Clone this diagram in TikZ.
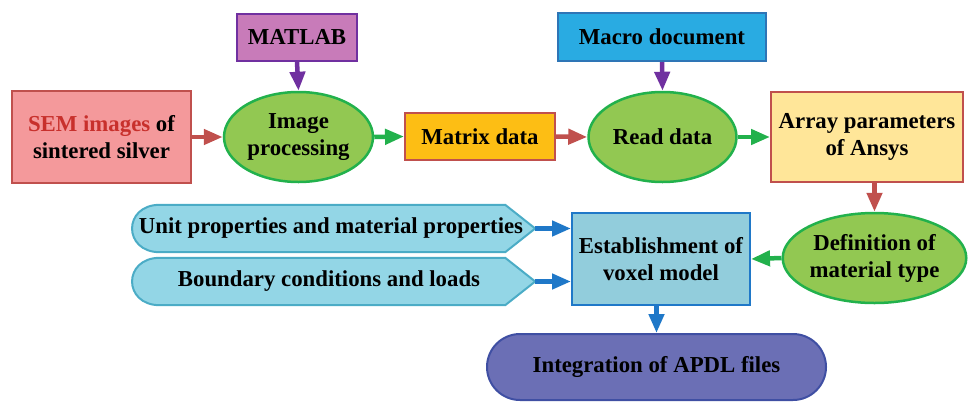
\documentclass[tikz,border=0pt]{standalone}
\usepackage{fontspec}
\setmainfont{Liberation Serif}
\usetikzlibrary{shapes.geometric,shapes.misc,arrows.meta}
\definecolor{cred}{HTML}{C0504D}
\definecolor{cpink}{HTML}{F4999B}
\definecolor{cpurp}{HTML}{7030A0}
\definecolor{cmat}{HTML}{C87BB9}
\definecolor{cgreen}{HTML}{22B14C}
\definecolor{cgfill}{HTML}{92C852}
\definecolor{corange}{HTML}{FDBE14}
\definecolor{cmacro}{HTML}{29ABE2}
\definecolor{cmacrob}{HTML}{2E75B6}
\definecolor{cyel}{HTML}{FFE699}
\definecolor{cest}{HTML}{92CDDC}
\definecolor{cblue}{HTML}{1F78C8}
\definecolor{ccyan}{HTML}{93D6E6}
\definecolor{ccyanb}{HTML}{4BACC6}
\definecolor{capdl}{HTML}{6B6FB5}
\definecolor{capdlb}{HTML}{3F4FA3}
\definecolor{semred}{HTML}{C8302C}
\begin{document}
\begin{tikzpicture}[x=1pt,y=-1pt,
  every node/.style={font=\fontsize{22.8}{27}\selectfont\bfseries, align=center, inner sep=0pt},
  box/.style={draw, rectangle, line width=2pt},
  oval/.style={ellipse, draw=cgreen, fill=cgfill, line width=2.5pt},
  arr/.style={line width=4.5pt, -{Triangle[length=19pt,width=15pt]}},
]
\useasboundingbox (0,0) rectangle (971,402);
% nodes
\node[box, draw=cred, fill=cpink, minimum width=179pt, minimum height=92pt] (sem) at (101.5,137) {\textcolor{semred}{SEM images} of\\sintered silver};
\node[box, draw=cpurp, fill=cmat, minimum width=120pt, minimum height=47pt] (matlab) at (297,37.5) {MATLAB};
\node[oval, minimum width=149pt, minimum height=90pt] (ip) at (298.5,137) {Image\\processing};
\node[box, draw=cred, fill=corange, minimum width=150pt, minimum height=47pt] (matrix) at (480,136.5) {Matrix data};
\node[oval, minimum width=148pt, minimum height=90pt] (read) at (662.5,137) {Read data};
\node[box, draw=cmacrob, fill=cmacro, minimum width=208pt, minimum height=48pt] (macro) at (662,37) {Macro document};
\node[box, draw=cred, fill=cyel, minimum width=192pt, minimum height=90pt] (array) at (867,137) {Array parameters\\of Ansys};
\node[oval, minimum width=177pt, minimum height=90pt] (def) at (874.5,258) {Definition of\\material type};
\node[box, draw=cblue, fill=cest, minimum width=178pt, minimum height=92pt] (est) at (661,259) {Establishment of\\voxel model};
% pentagon-like input shapes
\node[minimum width=408pt, minimum height=47pt] (unit) at (331,228.5) {};
\node[minimum width=408pt, minimum height=47pt] (bound) at (331,281.5) {};
\foreach \n in {unit,bound}{
  \draw[draw=ccyanb, fill=ccyan, line width=2pt]
    ([xshift=-30pt]\n.north east) -- (\n.east) -- ([xshift=-30pt]\n.south east)
    -- ([xshift=33pt]\n.south west) .. controls ([xshift=-4pt]\n.south west) and ([xshift=-4pt]\n.north west) .. ([xshift=33pt]\n.north west) -- cycle;
}
\node (unittxt) at ([xshift=0pt]unit.center) {Unit properties and material properties};
\node (boundtxt) at ([xshift=-2pt]bound.center) {Boundary conditions and loads};
\node[draw=capdlb, fill=capdl, line width=2pt, rounded rectangle, minimum width=339pt, minimum height=66pt] (apdl) at (656.5,367) {Integration of APDL files};
% connectors
\draw[arr, cred] (sem.east) -- (ip.west);
\draw[arr, cpurp] (matlab.south) -- (ip.north);
\draw[arr, cgreen] (ip.east) -- (matrix.west);
\draw[arr, cred] (matrix.east) -- (read.west);
\draw[arr, cpurp] (macro.south) -- (read.north);
\draw[arr, cgreen] (read.east) -- (array.west);
\draw[arr, cred] (def.north |- array.south) -- (def.north);
\draw[arr, cgreen] (def.west) -- (est.east);
\draw[arr, cblue] (unit.east) -- (est.west |- unit.east);
\draw[arr, cblue] (bound.east) -- (est.west |- bound.east);
\draw[arr, cblue] (apdl.north |- est.south) -- (apdl.north);
\end{tikzpicture}
\end{document}
